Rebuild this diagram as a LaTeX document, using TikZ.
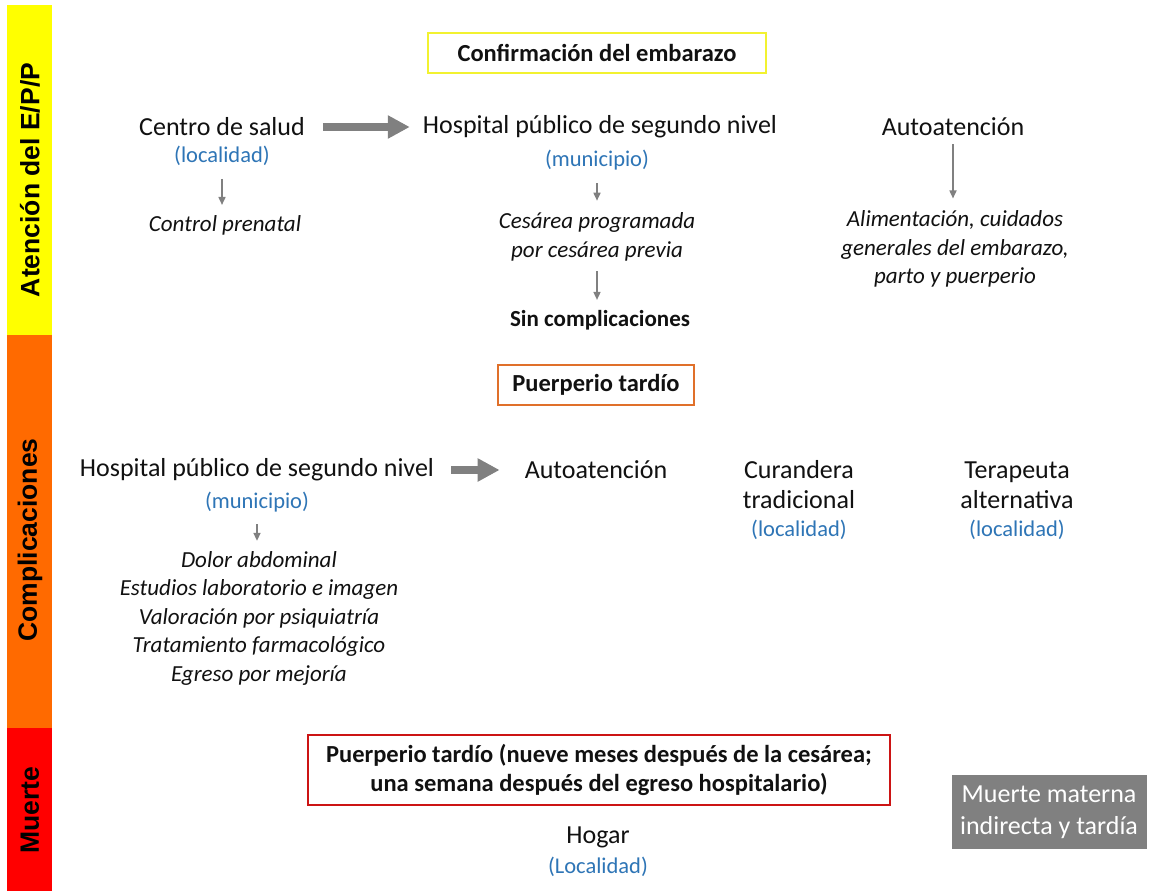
\documentclass[tikz,border=0pt]{standalone}
\usepackage{fontspec}
\setmainfont{Carlito}
\newfontfamily\barfont{Liberation Sans}
\usetikzlibrary{arrows.meta}
\definecolor{colY}{HTML}{FFFF00}
\definecolor{colO}{HTML}{FF6A00}
\definecolor{colR}{HTML}{FF0000}
\definecolor{bordY}{HTML}{F2F230}
\definecolor{bordO}{HTML}{E0702A}
\definecolor{bordR}{HTML}{CC1414}
\definecolor{bluet}{HTML}{2E75B6}
\definecolor{greyarr}{HTML}{808080}
\definecolor{greybox}{HTML}{808080}
\definecolor{txt}{HTML}{111111}
\begin{document}
\begin{tikzpicture}[x=1pt,y=-1pt,
  every node/.style={inner sep=0pt, text=txt},
  main/.style={font=\fontsize{26}{30}\selectfont, align=center},
  sub/.style={font=\fontsize{22.5}{26}\selectfont, text=bluet},
  itl/.style={font=\fontsize{23}{28.5}\selectfont\itshape, align=center},
  bld/.style={font=\fontsize{23}{28}\selectfont\bfseries, align=center},
  hdr/.style={draw, line width=2pt, inner xsep=14pt, inner ysep=9pt, font=\fontsize{24.5}{29}\selectfont\bfseries, align=center},
  bartxt/.style={rotate=90, font=\fontsize{26.5}{30}\selectfont\barfont\bfseries, text=black},
  sarrow/.style={draw=greyarr, line width=1.6pt, -{Triangle[length=8pt,width=7pt]}},
  barrow/.style={draw=greyarr, line width=8pt, -{Triangle[length=22pt,width=22pt]}}
]
\useasboundingbox (0,0) rectangle (1149,891);
\fill[white] (0,0) rectangle (1149,891);
% side bar
\fill[colY] (7,5) rectangle (52,335);
\fill[colO] (7,335) rectangle (52,728);
\fill[colR] (7,728) rectangle (52,891);
\node[bartxt] (bt1) at (30,180) {Atención del E/P/P};
\node[bartxt] (bt2) at (30,540) {Complicaciones};
\node[bartxt] (bt3) at (30,810) {Muerte};

% top header
\node[hdr, draw=bordY, minimum width=338, minimum height=40] (h1) at (597,53) {Confirmación del embarazo};

% row 1
\node[main] (cs) at (222,127) {Centro de salud};
\node[sub] (cs2) at (222,156) {(localidad)};
\node[itl] (cp) at (225,225) {Control prenatal};
\draw[sarrow, shorten <=13pt, shorten >=10pt] (cs2) -- (cs2 |- cp.north);

\node[main] (hp) at (600,127) {Hospital público de segundo nivel};
\node[sub] (hp2) at (597,160) {(municipio)};
\node[itl] (ces) at (597,237) {Cesárea programada\\por cesárea previa};
\node[bld] (sc) at (600,320) {Sin complicaciones};
\draw[sarrow, shorten <=13pt, shorten >=12pt] (hp2) -- (hp2 |- ces.north);
\draw[sarrow, shorten <=10pt, shorten >=10pt] (ces.south -| hp2) -- (hp2 |- sc.north);
\draw[barrow] ([xshift=18pt]cs.east) -- ([xshift=-13pt]hp.west);

\node[main] (au) at (953,127) {Autoatención};
\node[itl] (al) at (955,249) {Alimentación, cuidados\\generales del embarazo,\\parto y puerperio};
\draw[sarrow, shorten <=8pt, shorten >=12pt] (au) -- (au |- al.north);

% second header
\node[hdr, draw=bordO, minimum width=194, minimum height=40] (h2) at (596,385) {Puerperio tardío};

% row 2
\node[main] (hp3) at (257,470) {Hospital público de segundo nivel};
\node[sub] (hp4) at (257,502) {(municipio)};
\node[itl] (lst) at (259,618) {Dolor abdominal\\Estudios laboratorio e imagen\\Valoración por psiquiatría\\Tratamiento farmacológico\\Egreso por mejoría};
\draw[sarrow, shorten <=12pt, shorten >=10pt] (hp4) -- (hp4 |- lst.north);
\node[main] (au2) at (596,470) {Autoatención};
\draw[barrow] ([xshift=17pt]hp3.east) -- ([xshift=-25pt]au2.west);

\node[main] (cu) at (799,485) {Curandera\\tradicional};
\node[sub] (cu2) at (799,530) {(localidad)};
\node[main] (te) at (1017,485) {Terapeuta\\alternativa};
\node[sub] (te2) at (1017,530) {(localidad)};

% death
\node[hdr, draw=bordR, minimum width=582, minimum height=70] (h3) at (599,770) {Puerperio tardío (nueve meses después de la cesárea;\\una semana después del egreso hospitalario)};
\node[main] (ho) at (598,837) {Hogar};
\node[sub] (ho2) at (598,867) {(Localidad)};
\node[fill=greybox, text=white, minimum width=195, minimum height=74, align=center, font=\fontsize{26}{32}\selectfont] (mm) at (1049,812) {Muerte materna\\indirecta y tardía};
\end{tikzpicture}
\end{document}
